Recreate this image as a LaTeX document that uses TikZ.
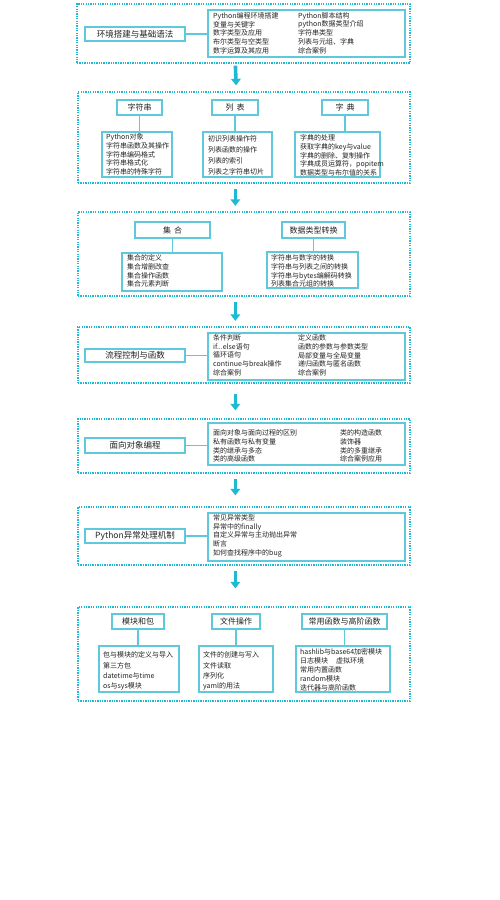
\documentclass[tikz,border=0pt]{standalone}
\usepackage{fontspec}
\setmainfont{Noto Sans CJK SC}
\usetikzlibrary{arrows.meta,fit}
\definecolor{cy}{RGB}{30,185,210}
\definecolor{bx}{RGB}{95,200,218}
\definecolor{tx}{RGB}{35,35,35}
\tikzset{
  sect/.style={draw=cy, line width=1.3pt, dash pattern=on 1.3pt off 1.1pt, inner sep=0pt},
  box/.style={draw=bx, line width=1.1pt, inner sep=0pt, fill=white},
  lab/.style={box, text=tx, font=\fontsize{8.5}{10}\selectfont},
  ttl/.style={box, text=tx, font=\fontsize{8}{10}\selectfont},
  txt/.style={anchor=north west, inner sep=0pt, align=left, text=tx, font=\fontsize{7}{8.7}\selectfont},
  txtw/.style={txt, font=\fontsize{7}{10.8}\selectfont},
  link/.style={draw=bx, line width=1.1pt},
  big/.style={draw=cy, line width=3.6pt, -{Triangle[width=9.5pt,length=6.5pt]}}
}
\begin{document}
\begin{tikzpicture}[x=1pt,y=-1pt]
\useasboundingbox (0,0) rectangle (500,900);
\fill[white] (0,0) rectangle (500,900);

% ---------- section 1
\node[sect, fit={(77,4)(410,63)}] (s1) {};
\node[lab, minimum width=100pt, minimum height=14pt] (l1) at (135,34) {环境搭建与基础语法};
\node[box, fit={(208,10)(405,57)}] (r1) {};
\draw[link] (l1.east) -- (l1.east -| r1.west);
\node[txt] (r1a) at (213,12.2) {Python编程环境搭建\\变量与关键字\\数字类型及应用\\布尔类型与空类型\\数字运算及其应用};
\node[txt] (r1b) at (298,12.2) {Python脚本结构\\python数据类型介绍\\字符串类型\\列表与元组、字典\\综合案例};

% ---------- section 2
\node[sect, fit={(78,92)(410,183)}] (s2) {};
\node[ttl, minimum width=45pt, minimum height=15pt] (t21) at (139.5,107.5) {字符串};
\node[ttl, minimum width=46pt, minimum height=15pt] (t22) at (235,107.5) {列\hspace{3pt}表};
\node[ttl, minimum width=46pt, minimum height=15pt] (t23) at (345,107.5) {字\hspace{3pt}典};
\node[box, fit={(102,132)(172,177)}] (b21) {};
\node[box, fit={(203,132)(272,177)}] (b22) {};
\node[box, fit={(295,132)(380,177)}] (b23) {};
\draw[link] (t21.south) -- (t21.south |- b21.north);
\draw[link] (t22.south) -- (t22.south |- b22.north);
\draw[link] (t23.south) -- (t23.south |- b23.north);
\node[txt] (b21t) at (106,133.5) {Python对象\\字符串函数及其操作\\字符串编码格式\\字符串格式化\\字符串的特殊字符};
\node[txtw] (b22t) at (208,135.5) {初识列表操作符\\列表函数的操作\\列表的索引\\列表之字符串切片};
\node[txt] (b23t) at (300,134.5) {字典的处理\\获取字典的key与value\\字典的删除、复制操作\\字典成员运算符，popitem\\数据类型与布尔值的关系};

% ---------- section 3
\node[sect, fit={(78,212)(410,296)}] (s3) {};
\node[ttl, minimum width=75pt, minimum height=16pt] (t31) at (172.5,230) {集\hspace{3pt}合};
\node[ttl, minimum width=63pt, minimum height=16pt] (t32) at (313.5,230) {数据类型转换};
\node[box, fit={(122,253)(222,291)}] (b31) {};
\node[box, fit={(267,252)(358,288)}] (b32) {};
\draw[link] (t31.south) -- (t31.south |- b31.north);
\draw[link] (t32.south) -- (t32.south |- b32.north);
\node[txt] (b31t) at (127,254.5) {集合的定义\\集合增删改查\\集合操作函数\\集合元素判断};
\node[txt] (b32t) at (271,254.5) {字符串与数字的转换\\字符串与列表之间的转换\\字符串与bytes编解码转换\\列表集合元组的转换};

% ---------- section 4
\node[sect, fit={(78,327)(410,383)}] (s4) {};
\node[lab, minimum width=100pt, minimum height=13pt] (l4) at (135,355.5) {流程控制与函数};
\node[box, fit={(208,333)(405,380)}] (r4) {};
\draw[link] (l4.east) -- (l4.east -| r4.west);
\node[txt] (r4a) at (213,334.5) {条件判断\\if...else语句\\循环语句\\continue与break操作\\综合案例};
\node[txt] (r4b) at (298,334.5) {定义函数\\函数的参数与参数类型\\局部变量与全局变量\\递归函数与匿名函数\\综合案例};

% ---------- section 5
\node[sect, fit={(78,419)(410,473)}] (s5) {};
\node[lab, minimum width=100pt, minimum height=15pt] (l5) at (135,445.5) {面向对象编程};
\node[box, fit={(208,423)(405,465)}] (r5) {};
\draw[link] (l5.east) -- (l5.east -| r5.west);
\node[txt] (r5a) at (213,429.5) {面向对象与面向过程的区别\\私有函数与私有变量\\类的继承与多态\\类的高级函数};
\node[txt] (r5b) at (340,429.5) {类的构造函数\\装饰器\\类的多重继承\\综合案例应用};

% ---------- section 6
\node[sect, fit={(78,507)(410,565)}] (s6) {};
\node[lab, minimum width=100pt, minimum height=14pt] (l6) at (135,536) {Python异常处理机制};
\node[box, fit={(208,513)(405,561)}] (r6) {};
\draw[link] (l6.east) -- (l6.east -| r6.west);
\node[txt] (r6a) at (213,514.5) {常见异常类型\\异常中的finally\\自定义异常与主动抛出异常\\断言\\如何查找程序中的bug};

% ---------- section 7
\node[sect, fit={(78,607)(410,701)}] (s7) {};
\node[ttl, minimum width=52pt, minimum height=15pt] (t71) at (138,621.5) {模块和包};
\node[ttl, minimum width=48pt, minimum height=15pt] (t72) at (236,621.5) {文件操作};
\node[ttl, minimum width=85pt, minimum height=15pt] (t73) at (344.5,621.5) {常用函数与高阶函数};
\node[box, fit={(99,646)(179,692)}] (b71) {};
\node[box, fit={(199,646)(273,692)}] (b72) {};
\node[box, fit={(296,646)(390,692)}] (b73) {};
\draw[link] (t71.south) -- (t71.south |- b71.north);
\draw[link] (t72.south) -- (t72.south |- b72.north);
\draw[link] (t73.south) -- (t73.south |- b73.north);
\node[txtw, font=\fontsize{7}{10.4}\selectfont] (b71t) at (103,651.5) {包与模块的定义与导入\\第三方包\\datetime与time\\os与sys模块};
\node[txtw, font=\fontsize{7}{10.4}\selectfont] (b72t) at (203,651.5) {文件的创建与写入\\文件读取\\序列化\\yaml的用法};
\node[txt, font=\fontsize{7}{9}\selectfont] (b73t) at (300,648.5) {hashlib与base64加密模块\\日志模块\hspace{8pt}虚拟环境\\常用内置函数\\random模块\\迭代器与高阶函数};

% ---------- arrows between sections
\draw[big, shorten <=2pt, shorten >=6pt] ([xshift=159pt]s1.south west) -- ([xshift=159pt]s2.north west);
\draw[big, shorten <=5.5pt, shorten >=5.5pt] ([xshift=158pt]s2.south west) -- ([xshift=158pt]s3.north west);
\draw[big, shorten <=5.5pt, shorten >=5.5pt] ([xshift=158pt]s3.south west) -- ([xshift=158pt]s4.north west);
\draw[big, shorten <=10.5pt, shorten >=8pt] ([xshift=158pt]s4.south west) -- ([xshift=158pt]s5.north west);
\draw[big, shorten <=5.5pt, shorten >=11pt] ([xshift=158pt]s5.south west) -- ([xshift=158pt]s6.north west);
\draw[big, shorten <=5.5pt, shorten >=18pt] ([xshift=158pt]s6.south west) -- ([xshift=158pt]s7.north west);
\end{tikzpicture}
\end{document}
